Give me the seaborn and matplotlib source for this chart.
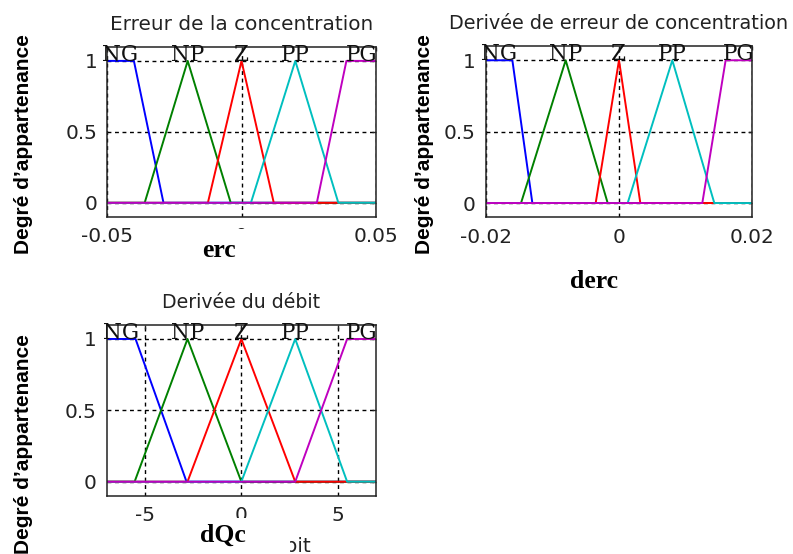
import matplotlib
matplotlib.use("Agg")
import matplotlib.pyplot as plt
import pandas as pd
import seaborn as sns
from matplotlib.patches import Rectangle

# Linguistic terms shared by the three fuzzy variables
terms = ["NG", "NP", "Z", "PP", "PG"]
term_colors = ["#0000FF", "#008000", "#FF0000", "#00BFBF", "#BF00BF"]
mu_ticks = [0, 0.5, 1]
mu_ticklabels = ["0", "0.5", "1"]

# erc : concentration error
erc_range = [-0.05, 0.05]
erc_NG = [-0.040, -0.029]          # left shoulder: 1 until first point, 0 after second
erc_NP = [-0.036, -0.020, -0.004]  # triangles: start, peak, end
erc_Z = [-0.0125, 0.0, 0.012]
erc_PP = [0.0035, 0.020, 0.036]
erc_PG = [0.028, 0.039]            # right shoulder: 0 until first point, 1 after second
erc_ticks = [-0.05, 0, 0.05]
erc_ticklabels = ["-0.05", "0", "0.05"]

# derc : derivative of the concentration error
derc_range = [-0.02, 0.02]
derc_NG = [-0.016, -0.013]
derc_NP = [-0.0147, -0.008, -0.0017]
derc_Z = [-0.0035, 0.0, 0.0032]
derc_PP = [0.0013, 0.008, 0.0143]
derc_PG = [0.0125, 0.016]
derc_ticks = [-0.02, 0, 0.02]
derc_ticklabels = ["-0.02", "0", "0.02"]

# dQc : derivative of the flow rate
dqc_range = [-7, 7]
dqc_NG = [-5.5, -2.85]
dqc_NP = [-5.55, -2.8, 0.0]
dqc_Z = [-2.8, 0.0, 2.8]
dqc_PP = [0.0, 2.8, 5.5]
dqc_PG = [2.8, 5.5]
dqc_ticks = [-5, 0, 5]
dqc_ticklabels = ["-5", "0", "5"]

W, H = 793, 554
SANS = "DejaVu Sans"
TXT = "#222222"

sns.set_theme(style="white")
plt.rcParams["font.family"] = [SANS]


def mf_table(rng, ng, np_, z, pp, pg):
    lo, hi = rng
    rows = []
    shapes = {
        "NG": ([lo, ng[0], ng[1], hi], [1, 1, 0, 0]),
        "NP": ([lo, np_[0], np_[1], np_[2], hi], [0, 0, 1, 0, 0]),
        "Z": ([lo, z[0], z[1], z[2], hi], [0, 0, 1, 0, 0]),
        "PP": ([lo, pp[0], pp[1], pp[2], hi], [0, 0, 1, 0, 0]),
        "PG": ([lo, pg[0], pg[1], hi], [0, 0, 1, 1]),
    }
    for t in terms:
        xs, ys = shapes[t]
        for i, (x, y) in enumerate(zip(xs, ys)):
            rows.append({"term": t, "step": i, "x": x, "mu": y})
    peaks = {
        "NG": (lo + ng[0]) / 2,
        "NP": np_[1],
        "Z": z[1],
        "PP": pp[1],
        "PG": (pg[1] + hi) / 2,
    }
    return pd.DataFrame(rows), peaks


def px_axes(fig, left, top, right, bottom):
    return fig.add_axes([left / W, 1 - bottom / H, (right - left) / W, (bottom - top) / H])


def draw_panel(ax, rng, params, ticks, ticklabels, title, title_size):
    df, peaks = mf_table(rng, *params)
    sns.lineplot(data=df, x="x", y="mu", hue="term", hue_order=terms,
                 palette=term_colors, sort=False, estimator=None,
                 linewidth=1.4, legend=False, ax=ax)
    ax.set_xlim(rng)
    ax.set_ylim(-0.1, 1.1)
    ax.set_xticks(ticks)
    ax.set_xticklabels(ticklabels)
    ax.set_yticks(mu_ticks)
    ax.set_yticklabels(mu_ticklabels)
    ax.set_xlabel("")
    ax.set_ylabel("")
    ax.set_axisbelow(True)
    ax.grid(True, color="black", linestyle=(0, (2.8, 2.6)), linewidth=1.0)
    for s in ax.spines.values():
        s.set_visible(True)
        s.set_color(TXT)
        s.set_linewidth(1.1)
    ax.tick_params(axis="both", direction="in", length=3, width=1, colors=TXT,
                   labelsize=14.4, top=True, right=True)
    ax.tick_params(axis="x", pad=7.5)
    ax.tick_params(axis="y", pad=7)
    for t in terms:
        ax.text(peaks[t], 1.0, t, ha="center", va="baseline",
                fontfamily="DejaVu Serif", fontsize=15.5, color="#111111")
    ax.set_title(title, fontsize=title_size, color=TXT, pad=12, fontfamily=SANS)


fig = plt.figure(figsize=(W / 100, H / 100), dpi=100)
fig.patch.set_facecolor("white")

ax1 = px_axes(fig, 107, 46.7, 376, 217)
draw_panel(ax1, erc_range, (erc_NG, erc_NP, erc_Z, erc_PP, erc_PG),
           erc_ticks, erc_ticklabels, "Erreur de la concentration", 14.4)

ax2 = px_axes(fig, 485.7, 46, 752.3, 217.3)
draw_panel(ax2, derc_range, (derc_NG, derc_NP, derc_Z, derc_PP, derc_PG),
           derc_ticks, derc_ticklabels, "Derivée de erreur de concentration", 13.9)

ax3 = px_axes(fig, 106.7, 324.7, 376, 496)
draw_panel(ax3, dqc_range, (dqc_NG, dqc_NP, dqc_Z, dqc_PP, dqc_PG),
           dqc_ticks, dqc_ticklabels, "Derivée du débit", 13.6)

# original axis label of the flow panel, mostly hidden under the dQc box
fig.text(311 / W, 1 - 552 / H, "Derivée du débit", ha="right", va="baseline",
         fontsize=14.4, color=TXT, fontfamily=SANS, zorder=3)

# white boxes carrying the variable names
for (x0, y0, x1, y1) in [(195, 229, 262, 266), (160, 518, 290, 554), (110, 528, 162, 554)]:
    fig.add_artist(Rectangle((x0 / W, 1 - y1 / H), (x1 - x0) / W, (y1 - y0) / H,
                             transform=fig.transFigure, facecolor="white",
                             edgecolor="none", zorder=5))

serif_bold = dict(fontfamily="Liberation Serif", fontweight="bold", fontsize=18.5,
                  color="black", ha="center", va="baseline", zorder=6)
fig.text(219.5 / W, 1 - 257 / H, "erc", **serif_bold)
fig.text(594 / W, 1 - 288 / H, "derc", **serif_bold)
fig.text(222.5 / W, 1 - 542 / H, "dQc", **serif_bold)

ylab = dict(fontfamily="Liberation Sans", fontweight="bold", fontsize=15,
            color="black", rotation=90, ha="center", va="center", zorder=6)
fig.text(24 / W, 1 - 144 / H, "Degré d’appartenance", **ylab)
fig.text(425 / W, 1 - 144 / H, "Degré d’appartenance", **ylab)
fig.text(24 / W, 1 - 444 / H, "Degré d’appartenance", **ylab)

fig.savefig("out.png", dpi=100, facecolor="white")
